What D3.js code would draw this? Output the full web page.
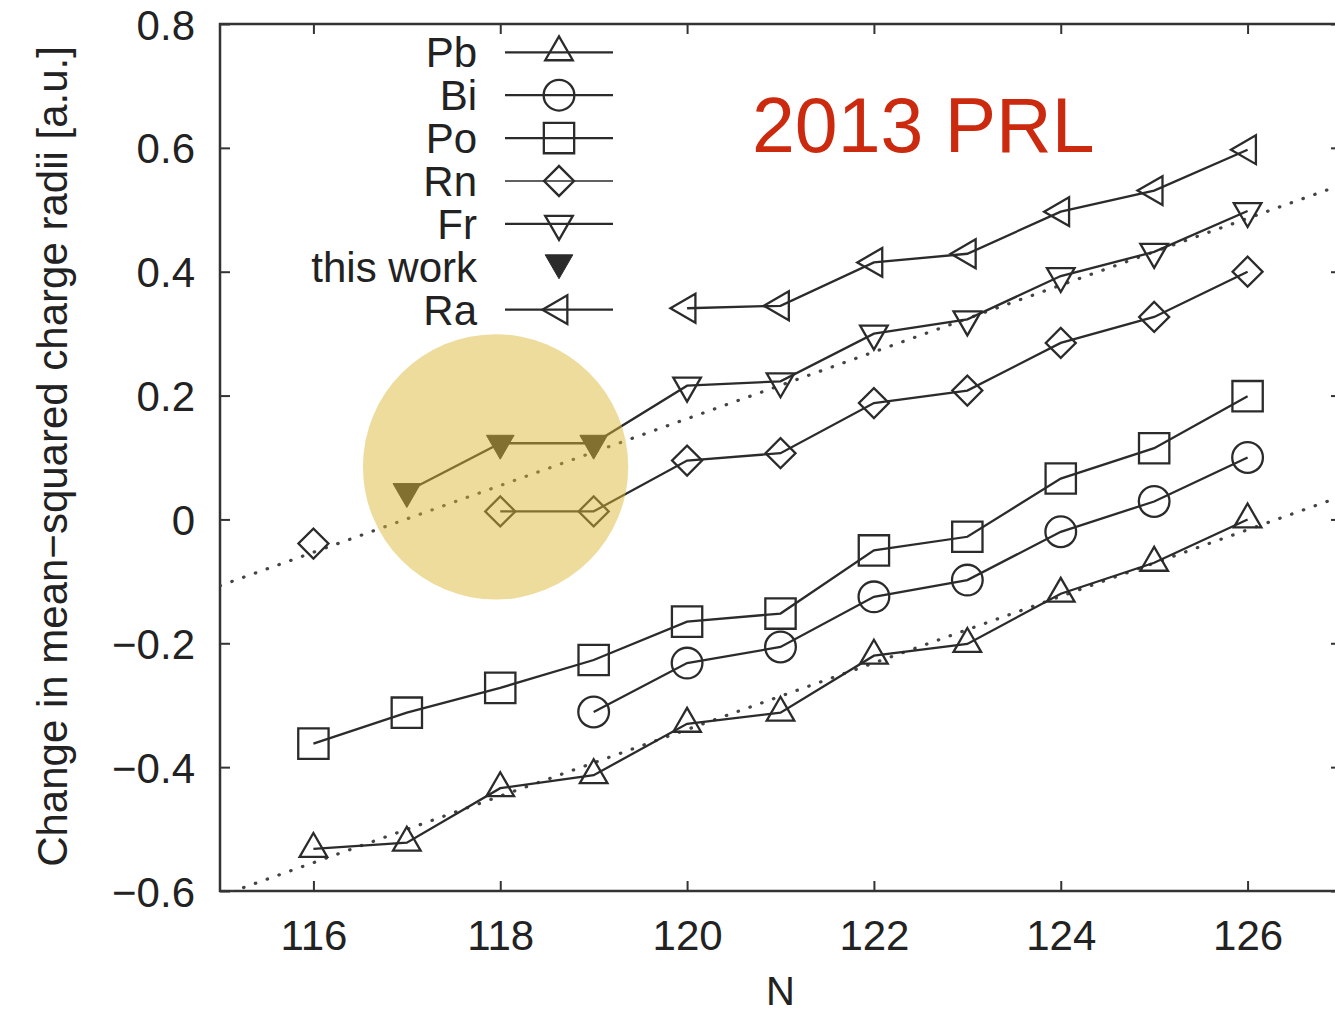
<!DOCTYPE html>
<html>
<head>
<meta charset="utf-8">
<script src="https://cdn.jsdelivr.net/npm/d3@7"></script>
<style>
  html, body { margin: 0; padding: 0; background: #fff; overflow: hidden; }
  text { font-family: "Liberation Sans", Arial, Helvetica, sans-serif; fill: #222; }
</style>
</head>
<body>
<div id="container"></div>
<script>
/* CONSTANTS AND GLOBALS */
const width = 1335,
  height = 1015,
  margin = { top: 24, bottom: 124, left: 220, right: -6 };

/* DATA */
const nAll = [116, 117, 118, 119, 120, 121, 122, 123, 124, 125, 126];
const pbValues = [-0.532, -0.522, -0.434, -0.413, -0.330, -0.312, -0.220, -0.201, -0.120, -0.070, 0.0];
const poValues = [-0.362, -0.312, -0.272, -0.227, -0.165, -0.152, -0.050, -0.028, 0.066, 0.115, 0.199];
const biN = [119, 120, 121, 122, 123, 124, 125, 126];
const biValues = [-0.311, -0.232, -0.206, -0.125, -0.098, -0.020, 0.029, 0.100];
const rnN = [116, 117, 118, 119, 120, 121, 122, 123, 124, 125, 126];
const rnValues = [-0.039, null, 0.013, 0.013, 0.095, 0.107, 0.188, 0.208, 0.285, 0.327, 0.400];
const workN = [117, 118, 119];
const workValues = [0.045, 0.123, 0.123];
const frN = [120, 121, 122, 123, 124, 125, 126];
const frValues = [0.216, 0.223, 0.300, 0.323, 0.393, 0.432, 0.498];
const raN = [120, 121, 122, 123, 124, 125, 126];
const raValues = [0.341, 0.345, 0.415, 0.429, 0.497, 0.531, 0.597];

// dotted trend lines (end points)
const trendN = [115, 127];
const upperTrend = [-0.107, 0.540];
const lowerTrend = [-0.608, 0.037];

const xTicks = [116, 118, 120, 122, 124, 126];
const yTicks = [-0.6, -0.4, -0.2, 0, 0.2, 0.4, 0.6, 0.8];

const legendLabels = ["Pb", "Bi", "Po", "Rn", "Fr", "this work", "Ra"];
const legendSymbols = ["up", "circle", "square", "diamond", "down", "filled", "left"];

// highlight annotation (data units)
const highlightCenter = [117.95, 0.085];
const highlightRadiusN = 1.42;
const noteText = "2013 PRL";

/* SCALES */
const xScale = d3.scaleLinear()
  .domain([115, 127])
  .range([margin.left, width - margin.right]);

const yScale = d3.scaleLinear()
  .domain([-0.6, 0.8])
  .range([height - margin.bottom, margin.top]);

const ink = "#2b2b2b";

/* SYMBOLS */
const symbolPath = {
  up: d3.symbol(d3.symbolTriangle, 330)(),
  down: d3.symbol(d3.symbolTriangle, 330)(),
  filled: d3.symbol(d3.symbolTriangle, 330)(),
  left: d3.symbol(d3.symbolTriangle, 360)(),
  circle: d3.symbol(d3.symbolCircle, 740)(),
  square: d3.symbol(d3.symbolSquare, 920)(),
  diamond: d3.symbol(d3.symbolSquare, 450)()
};
const symbolRotate = { up: 0, down: 180, filled: 180, left: -90, circle: 0, square: 0, diamond: 45 };

function drawMarker(g, kind, x, y) {
  g.append("path")
    .attr("d", symbolPath[kind])
    .attr("transform", `translate(${x},${y}) rotate(${symbolRotate[kind]})`)
    .attr("fill", kind === "filled" ? ink : "none")
    .attr("stroke", ink)
    .attr("stroke-width", kind === "filled" ? 1 : 2.3);
}

/* SVG */
const svg = d3.select("#container")
  .append("svg")
  .attr("width", width)
  .attr("height", height);

svg.append("defs").append("clipPath")
  .attr("id", "plot-clip")
  .append("rect")
  .attr("x", xScale(115))
  .attr("y", yScale(0.8))
  .attr("width", xScale(127) - xScale(115))
  .attr("height", yScale(-0.6) - yScale(0.8));

/* AXES */
const fmt = d => d === 0 ? "0" : d3.format(".1f")(d);

const yAxis = svg.append("g")
  .attr("transform", `translate(${xScale(115)},0)`)
  .call(d3.axisLeft(yScale).tickValues(yTicks).tickFormat(fmt).tickSize(-10).tickSizeOuter(0).tickPadding(25));

const yAxisRight = svg.append("g")
  .attr("transform", `translate(${xScale(127)},0)`)
  .call(d3.axisRight(yScale).tickValues(yTicks).tickFormat("").tickSize(-10).tickSizeOuter(0));

const xAxis = svg.append("g")
  .attr("transform", `translate(0,${yScale(-0.6)})`)
  .call(d3.axisBottom(xScale).tickValues(xTicks).tickFormat(d3.format("d")).tickSize(-10).tickSizeOuter(0).tickPadding(29));

const xAxisTop = svg.append("g")
  .attr("transform", `translate(0,${yScale(0.8)})`)
  .call(d3.axisTop(xScale).tickValues(xTicks).tickFormat("").tickSize(-10).tickSizeOuter(0));

[yAxis, yAxisRight, xAxis, xAxisTop].forEach(a => {
  a.select(".domain").remove();
  a.selectAll(".tick line").attr("stroke", "#333").attr("stroke-width", 2);
  a.selectAll("text")
    .attr("font-family", "'Liberation Sans', Arial, sans-serif")
    .attr("font-size", 42)
    .attr("fill", "#222");
});
yAxis.selectAll("text").attr("dy", "0.36em");

// frame
svg.append("rect")
  .attr("x", xScale(115))
  .attr("y", yScale(0.8))
  .attr("width", xScale(127) - xScale(115))
  .attr("height", yScale(-0.6) - yScale(0.8))
  .attr("fill", "none")
  .attr("stroke", "#333")
  .attr("stroke-width", 2.5);

// axis titles
svg.append("text")
  .attr("transform", `translate(67,${(yScale(0.8) + yScale(-0.6)) / 2 - 1}) rotate(-90)`)
  .attr("text-anchor", "middle")
  .attr("font-size", 42)
  .text("Change in mean\u2212squared charge radii [a.u.]");

svg.append("text")
  .attr("x", (xScale(115) + xScale(127)) / 2)
  .attr("y", 1005)
  .attr("text-anchor", "middle")
  .attr("font-size", 40)
  .text("N");

/* TREND LINES */
const plot = svg.append("g").attr("clip-path", "url(#plot-clip)");
const trendLine = d3.line().x((d, i) => xScale(trendN[i])).y(d => yScale(d));

[upperTrend, lowerTrend].forEach(t => {
  plot.append("path")
    .attr("d", trendLine(t))
    .attr("fill", "none")
    .attr("stroke", "#444")
    .attr("stroke-width", 3.2)
    .attr("stroke-linecap", "round")
    .attr("stroke-dasharray", "0.5,12");
});

/* SERIES */
const series = [
  { n: nAll, v: pbValues, sym: "up" },
  { n: biN, v: biValues, sym: "circle" },
  { n: nAll, v: poValues, sym: "square" },
  { n: rnN, v: rnValues, sym: "diamond" },
  { n: workN.concat(frN), v: workValues.concat(frValues), sym: "down", filled: workN.length },
  { n: raN, v: raValues, sym: "left" }
];

const lineGen = d3.line()
  .defined(d => d[1] !== null)
  .x(d => xScale(d[0]))
  .y(d => yScale(d[1]));

series.forEach(s => {
  const pts = s.n.map((n, i) => [n, s.v[i]]);
  svg.append("path")
    .attr("d", lineGen(pts))
    .attr("fill", "none")
    .attr("stroke", ink)
    .attr("stroke-width", 2.3);
  const g = svg.append("g");
  pts.filter(p => p[1] !== null).forEach((p, i) => {
    const kind = s.filled && i < s.filled ? "filled" : s.sym;
    drawMarker(g, kind, xScale(p[0]), yScale(p[1]));
  });
});

/* LEGEND */
const legend = svg.append("g");
legendLabels.forEach((label, i) => {
  const cy = 52.3 + i * 42.9;
  legend.append("text")
    .attr("x", 477)
    .attr("y", cy + 15)
    .attr("text-anchor", "end")
    .attr("font-size", 42)
    .text(label);
  if (legendSymbols[i] !== "filled") {
    legend.append("line")
      .attr("x1", 505).attr("x2", 613)
      .attr("y1", cy).attr("y2", cy)
      .attr("stroke", ink)
      .attr("stroke-width", legendSymbols[i] === "diamond" ? 1.6 : 2.3);
  }
  drawMarker(legend, legendSymbols[i], 559, legendSymbols[i] === "filled" ? cy - 4 : cy);
});

/* HIGHLIGHT */
svg.append("circle")
  .attr("cx", xScale(highlightCenter[0]))
  .attr("cy", yScale(highlightCenter[1]))
  .attr("r", xScale(115 + highlightRadiusN) - xScale(115))
  .attr("fill", "rgb(218,184,53)")
  .attr("fill-opacity", 0.49);

svg.append("text")
  .attr("x", 752)
  .attr("y", 152)
  .attr("font-size", 77)
  .style("fill", "#cc2a0f")
  .text(noteText);
</script>
</body>
</html>
